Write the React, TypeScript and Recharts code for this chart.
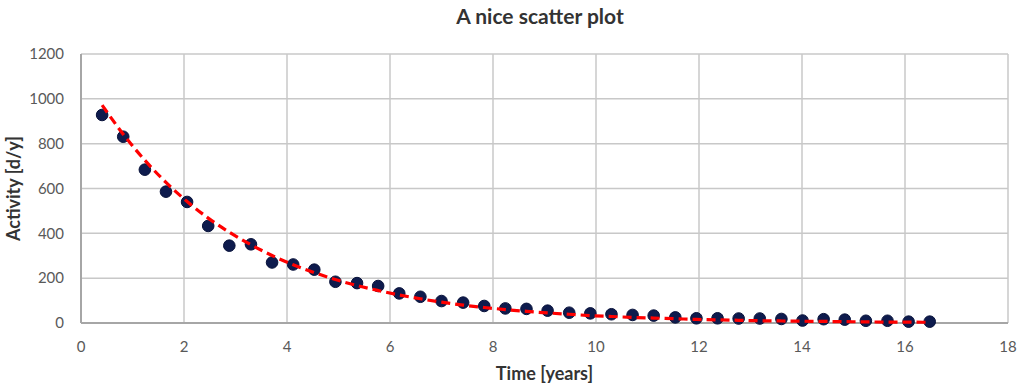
import React from 'react';
import { ComposedChart, Scatter, XAxis, YAxis, CartesianGrid, Label } from 'recharts';

const timeYears = [
  0.41, 0.82, 1.24, 1.65, 2.06, 2.47, 2.88, 3.3, 3.71, 4.12,
  4.53, 4.94, 5.36, 5.77, 6.18, 6.59, 7.0, 7.42, 7.83, 8.24,
  8.65, 9.06, 9.48, 9.89, 10.3, 10.71, 11.12, 11.54, 11.95, 12.36,
  12.77, 13.18, 13.6, 14.01, 14.42, 14.83, 15.24, 15.66, 16.07, 16.48,
];

const activity = [
  928, 831, 684, 586, 540, 433, 345, 351, 270, 261,
  238, 184, 178, 165, 132, 117, 98, 91, 76, 65,
  63, 55, 46, 43, 39, 36, 33, 25, 21, 21,
  20, 20, 18, 11, 17, 15, 10, 10, 6, 6,
];

const trendActivity = [
  972, 842, 726, 627, 542, 468, 405, 349, 301, 260,
  225, 194, 167, 145, 125, 108, 93, 80, 69, 60,
  52, 45, 39, 33, 29, 25, 22, 19, 16, 14,
  12, 10, 9, 8, 7, 6, 5, 4, 4, 3,
];

const xTicks = [0, 2, 4, 6, 8, 10, 12, 14, 16, 18];
const yTicks = [0, 200, 400, 600, 800, 1000, 1200];

const points = timeYears.map((t, i) => ({ x: t, y: activity[i] }));
const trend = timeYears.map((t, i) => ({ x: t, y: trendActivity[i] }));

const FONT = 'Lato, "Open Sans", sans-serif';

const Dot = (props: any) => {
  const { cx, cy } = props;
  if (cx == null || cy == null) return <g />;
  return <circle cx={cx} cy={cy} r={5.8} fill="#0e1b4d" stroke="#07113a" strokeWidth={1} />;
};

const NoDot = () => <g />;

export default function App() {
  return (
    <div style={{ position: 'absolute', left: 0, top: 0, width: 1023, height: 384, background: '#fff' }}>
      <div
        style={{
          position: 'absolute',
          left: 340,
          top: 3,
          width: 400,
          textAlign: 'center',
          fontFamily: FONT,
          fontWeight: 700,
          fontSize: 21,
          lineHeight: '25px',
          color: '#333333',
        }}
      >
        A nice scatter plot
      </div>
      <ComposedChart
        width={1023}
        height={384}
        margin={{ top: 54, right: 15, bottom: 21, left: 0 }}
      >
        <CartesianGrid stroke="#c8c8c8" strokeWidth={1.5} />
        <XAxis
          type="number"
          dataKey="x"
          domain={[0, 18]}
          ticks={xTicks}
          interval={0}
          height={40}
          axisLine={{ stroke: '#a6a6a6', strokeWidth: 2 }}
          tickLine={false}
          tickSize={6}
          tickMargin={12}
          tick={{ fill: '#595959', fontSize: 15, fontFamily: FONT }}
        >
          <Label
            value="Time [years]"
            position="bottom"
            offset={4}
            style={{ fill: '#333333', fontSize: 18, fontWeight: 700, fontFamily: FONT }}
          />
        </XAxis>
        <YAxis
          type="number"
          dataKey="y"
          domain={[0, 1200]}
          ticks={yTicks}
          interval={0}
          width={81}
          axisLine={{ stroke: '#a6a6a6', strokeWidth: 2 }}
          tickLine={false}
          tickSize={6}
          tickMargin={11}
          tick={{ fill: '#595959', fontSize: 15, fontFamily: FONT }}
        >
          <Label
            value="Activity [d/y]"
            angle={-90}
            position="insideLeft"
            offset={14}
            style={{ fill: '#333333', fontSize: 18, fontWeight: 700, fontFamily: FONT, textAnchor: 'middle' }}
          />
        </YAxis>
        <Scatter data={points} dataKey="y" shape={Dot} fill="#0e1b4d" isAnimationActive={false} />
        <Scatter
          data={trend}
          dataKey="y"
          shape={NoDot}
          fill="#ff0000"
          line={{ stroke: '#ff0000', strokeWidth: 3.2, strokeDasharray: '9 5' }}
          lineJointType="monotoneX"
          isAnimationActive={false}
        />
      </ComposedChart>
    </div>
  );
}
